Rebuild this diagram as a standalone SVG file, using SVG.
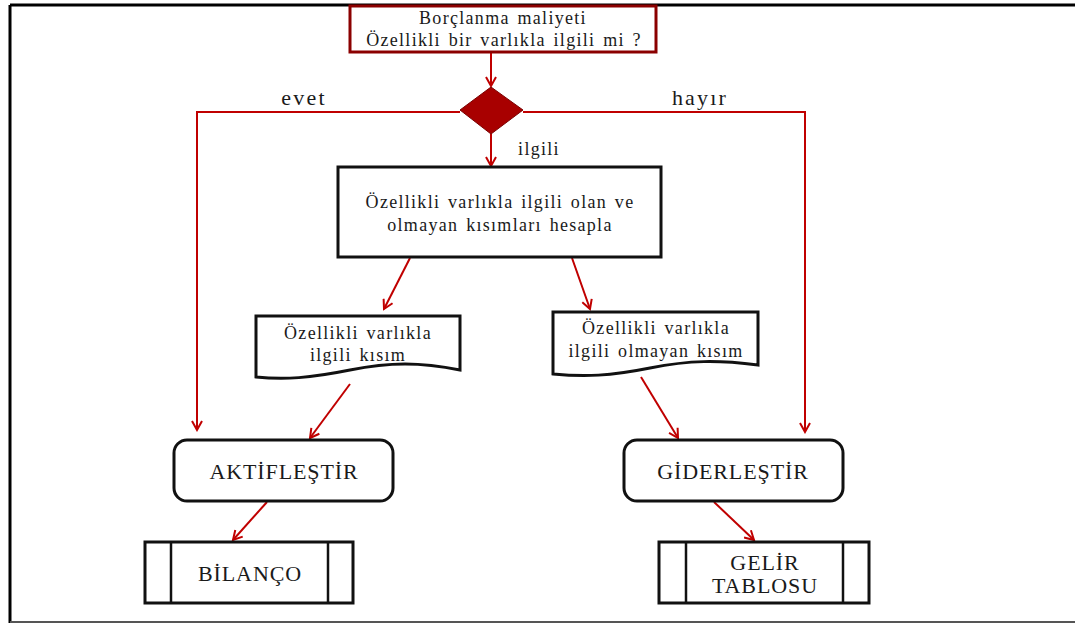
<svg xmlns="http://www.w3.org/2000/svg" width="1075" height="624" viewBox="0 0 1075 624">
<style>
.t{font-family:"Liberation Serif","Times New Roman",serif;fill:#1a1a1a;text-anchor:middle}
.s16{font-size:18px;letter-spacing:1.3px;word-spacing:2px}
.s20{font-size:22px;letter-spacing:0.9px}
.lab{font-size:22px;letter-spacing:2.2px}
.box{fill:#fff;stroke:#111;stroke-width:3}
.c{fill:none;stroke:#C00000;stroke-width:2}
</style>
<defs>
<marker id="ah" viewBox="0 0 12 12" refX="10" refY="6" markerWidth="12" markerHeight="12" markerUnits="userSpaceOnUse" orient="auto">
<polyline points="1,1 10,6 1,11" fill="none" stroke="#C00000" stroke-width="2"/>
</marker>
</defs>
<rect width="1075" height="624" fill="#fff"/>
<g id="frame">
<line x1="10" y1="5" x2="1075" y2="5" stroke="#000" stroke-width="3"/>
<line x1="10" y1="5" x2="10" y2="623" stroke="#000" stroke-width="3"/>
<line x1="10" y1="622" x2="1075" y2="622" stroke="#555" stroke-width="2"/>
</g>
<g id="connectors">
<line class="c" x1="491" y1="52" x2="491" y2="86" marker-end="url(#ah)"/>
<polyline class="c" points="460,112 197,112 197,430" marker-end="url(#ah)"/>
<polyline class="c" points="523,112 805,112 805,432" marker-end="url(#ah)"/>
<line class="c" x1="491" y1="134" x2="491" y2="166" marker-end="url(#ah)"/>
<line class="c" x1="410" y1="258" x2="384" y2="309" marker-end="url(#ah)"/>
<line class="c" x1="572" y1="258" x2="590" y2="309" marker-end="url(#ah)"/>
<line class="c" x1="350" y1="384" x2="310" y2="438" marker-end="url(#ah)"/>
<line class="c" x1="641" y1="377" x2="678" y2="438" marker-end="url(#ah)"/>
<line class="c" x1="267" y1="502" x2="233" y2="540" marker-end="url(#ah)"/>
<line class="c" x1="714" y1="502" x2="754" y2="540" marker-end="url(#ah)"/>
<text class="t lab" x="304" y="105">evet</text>
<text class="t lab" x="700" y="105">hayır</text>
<text class="t s16" x="539" y="155">ilgili</text>
</g>
<g id="question">
<rect x="350" y="6" width="306" height="46" fill="#fff" stroke="#8B0000" stroke-width="3"/>
<text class="t s16" x="503" y="24">Borçlanma  maliyeti</text>
<text class="t s16" x="504" y="46">Özellikli bir varlıkla ilgili mi ?</text>
</g>
<g id="decision">
<polygon points="491,87 523,110 491,134 460,110" fill="#A80000" stroke="#7a0000" stroke-width="1"/>
</g>
<g id="calc">
<rect class="box" x="338" y="167" width="323" height="90"/>
<text class="t s16" x="500" y="208">Özellikli varlıkla ilgili olan ve</text>
<text class="t s16" x="500" y="231">olmayan kısımları hesapla</text>
</g>
<g id="doc-related">
<path class="box" d="M256,316 H460 V370 C420,362 390,362 350,370 C310,378 285,380 256,377 Z"/>
<text class="t s16" x="358" y="339">Özellikli varlıkla</text>
<text class="t s16" x="358" y="361">ilgili kısım</text>
</g>
<g id="doc-unrelated">
<path class="box" d="M553,312 H758 V365 C718,360 690,360 650,368 C610,376 585,377 553,374 Z"/>
<text class="t s16" x="656" y="334">Özellikli varlıkla</text>
<text class="t s16" x="656" y="357">ilgili olmayan kısım</text>
</g>
<g id="capitalize">
<rect class="box" x="174" y="440" width="219" height="61" rx="13"/>
<text class="t s20" x="284" y="479">AKTİFLEŞTİR</text>
</g>
<g id="expense">
<rect class="box" x="624" y="440" width="219" height="61" rx="13"/>
<text class="t s20" x="733" y="479">GİDERLEŞTİR</text>
</g>
<g id="balance">
<rect class="box" x="145" y="542" width="208" height="61" stroke-width="2.5"/>
<line x1="171" y1="542" x2="171" y2="603" stroke="#111" stroke-width="2.5"/>
<line x1="328" y1="542" x2="328" y2="603" stroke="#111" stroke-width="2.5"/>
<text class="t s20" x="250" y="581">BİLANÇO</text>
</g>
<g id="income">
<rect class="box" x="659" y="542" width="210" height="61" stroke-width="2.5"/>
<line x1="686" y1="542" x2="686" y2="603" stroke="#111" stroke-width="2.5"/>
<line x1="843" y1="542" x2="843" y2="603" stroke="#111" stroke-width="2.5"/>
<text class="t s20" x="765" y="570">GELİR</text>
<text class="t s20" x="765" y="593">TABLOSU</text>
</g>
</svg>
